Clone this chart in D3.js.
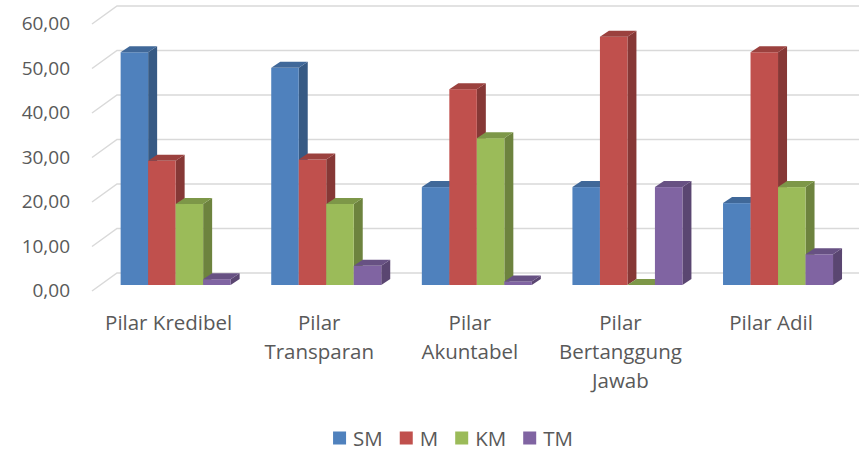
<!DOCTYPE html>
<html>
<head>
<meta charset="utf-8">
<script src="https://cdn.jsdelivr.net/npm/d3@7"></script>
<style>
  body { margin:0; background:#fff; }
  svg text { font-family: "Open Sans", "Noto Sans", sans-serif; fill:#595959; }
</style>
</head>
<body>
<svg id="chart" width="859" height="453"></svg>
<script>
// data
const categories = ["Pilar Kredibel", "Pilar Transparan", "Pilar Akuntabel", "Pilar Bertanggung Jawab", "Pilar Adil"];
const series = ["SM", "M", "KM", "TM"];
const colors = ["#4F81BD", "#C0504D", "#9BBB59", "#8064A2"];
const SM = [52.3, 48.8, 22.0, 22.0, 18.4];
const M  = [27.9, 28.2, 44.0, 55.8, 52.3];
const KM = [18.2, 18.2, 33.0, 0.0, 22.0];
const TM = [1.3, 4.3, 0.8, 22.0, 6.9];
const yTicks = [0, 10, 20, 30, 40, 50, 60];

const values = [SM, M, KM, TM];

(function(){
  const svg = d3.select('#chart');
  const W = 859;

  // 3D geometry (oblique projection)
  const wallDX = 25, wallDY = -18;      // front-left -> back-left of floor
  const frontX = 92, frontY0 = 291;     // front edge of floor at value 0
  const barDX = 9, barDY = -6;          // bar depth
  const barFrac = 1/3;                  // how deep the bar front sits

  // value -> vertical offset (px up from the baseline)
  const h = d3.scaleLinear().domain([0, 60]).range([0, 267]);

  // 1) gridlines: side wall diagonals + back wall horizontals
  const grid = svg.append('g').attr('stroke', '#d9d9d9').attr('stroke-width', 1.5).attr('fill', 'none');
  yTicks.forEach(t => {
    const yf = frontY0 - h(t);
    const xb = frontX + wallDX, yb = yf + wallDY;
    grid.append('path').attr('d', `M${frontX},${yf}L${xb},${yb}L${W},${yb}`);
  });

  // y-axis labels
  const fmt = v => d3.format('.2f')(v).replace('.', ',');
  svg.append('g').selectAll('text').data(yTicks).enter().append('text')
    .attr('x', 70).attr('y', t => frontY0 - h(t) + 1)
    .attr('text-anchor', 'end').attr('dominant-baseline', 'middle')
    .style('font-size', '19px')
    .text(fmt);

  // 2) bars
  const baseX = frontX + wallDX * barFrac;
  const baseY = frontY0 + wallDY * barFrac;
  const x = d3.scaleBand().domain(categories).range([baseX, baseX + 5 * 150.6]);
  const groupW = 110;
  const xs = d3.scaleBand().domain(series).range([0, groupW]);
  const bw = xs.bandwidth();

  const bars = svg.append('g');
  categories.forEach((c, ci) => {
    series.forEach((s, si) => {
      const v = values[si][ci];
      const col = d3.color(colors[si]);
      const x0 = x(c) + (x.bandwidth() - groupW) / 2 + xs(s);
      const x1 = x0 + bw;
      const yb = baseY, yt = baseY - h(v);
      const g = bars.append('g');
      // side
      g.append('path')
        .attr('d', `M${x1},${yt}L${x1 + barDX},${yt + barDY}L${x1 + barDX},${yb + barDY}L${x1},${yb}Z`)
        .attr('fill', col.darker(1.0));
      // front
      g.append('rect').attr('x', x0).attr('y', yt).attr('width', bw).attr('height', yb - yt)
        .attr('fill', col);
      // top
      g.append('path')
        .attr('d', `M${x0},${yt}L${x0 + barDX},${yt + barDY}L${x1 + barDX},${yt + barDY}L${x1},${yt}Z`)
        .attr('fill', col.darker(0.6));
    });
  });

  // 3) category labels (wrapped)
  const labelShift = -7;
  const lg = svg.append('g');
  categories.forEach(c => {
    const t = lg.append('text')
      .attr('x', x(c) + x.bandwidth() / 2 + labelShift)
      .attr('y', 330)
      .attr('text-anchor', 'middle')
      .style('font-size', '20.5px');
    const words = c.split(' ');
    let line = [], tsp = t.append('tspan').attr('x', t.attr('x')).attr('dy', 0);
    words.forEach(wd => {
      line.push(wd);
      tsp.text(line.join(' '));
      if (tsp.node().getComputedTextLength() > 132 && line.length > 1) {
        line.pop();
        tsp.text(line.join(' '));
        line = [wd];
        tsp = t.append('tspan').attr('x', t.attr('x')).attr('dy', 29).text(wd);
      }
    });
  });

  // 4) legend
  const leg = svg.append('g');
  const items = series.map((s, i) => {
    const g = leg.append('g');
    g.append('rect').attr('width', 13).attr('height', 13).attr('y', 431.5).attr('fill', colors[i]);
    const tx = g.append('text').attr('x', 20).attr('y', 446).style('font-size', '20.5px').text(s);
    return { g, w: 20 + tx.node().getComputedTextLength() };
  });
  const gap = 17;
  const total = d3.sum(items, d => d.w) + gap * (items.length - 1);
  let cx = 453 - total / 2;
  items.forEach(it => {
    it.g.attr('transform', `translate(${cx},0)`);
    cx += it.w + gap;
  });
})();
</script>
</body>
</html>
